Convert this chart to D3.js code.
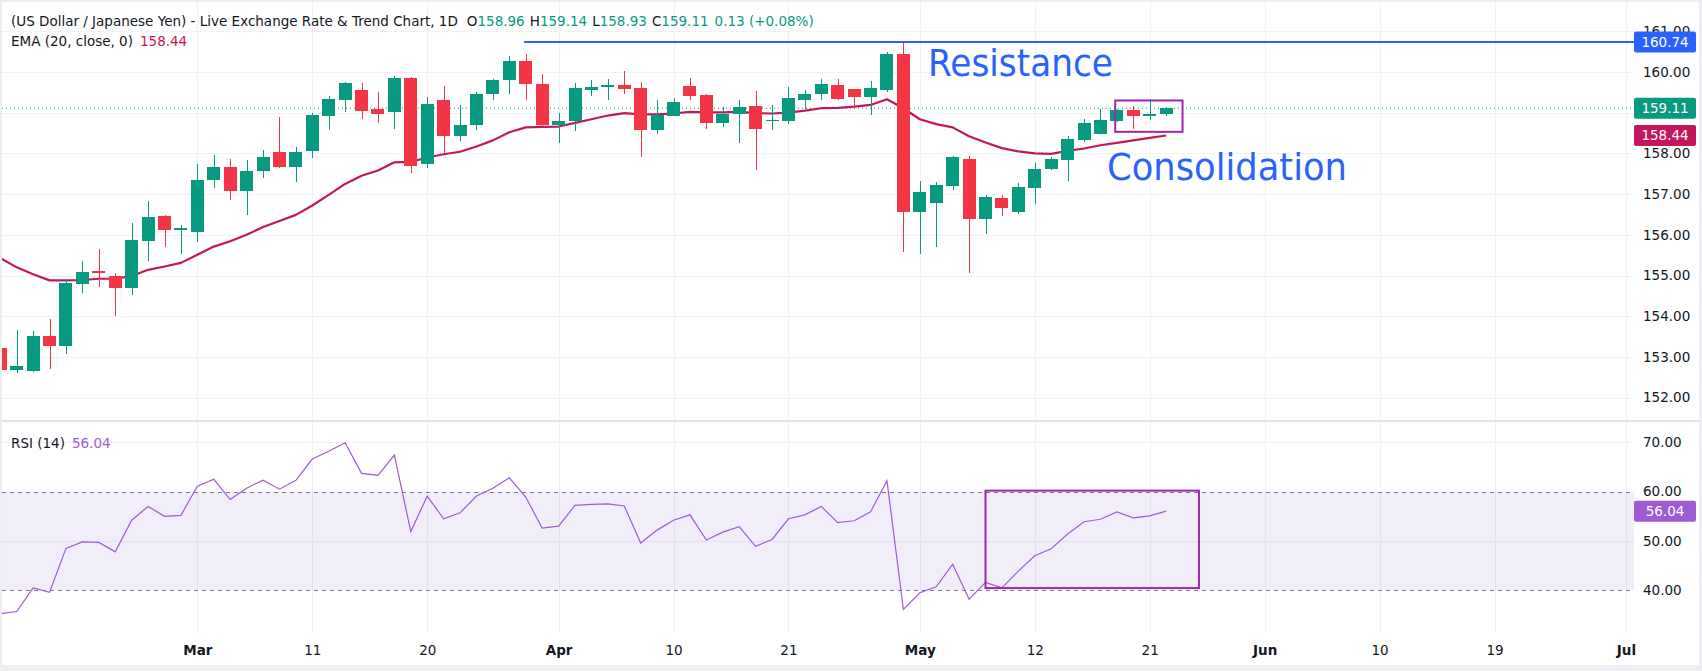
<!DOCTYPE html>
<html><head><meta charset="utf-8">
<script src="https://cdn.jsdelivr.net/npm/d3@7"></script>
<style>
html,body{margin:0;padding:0;background:#eceef2;}
svg{display:block;}
text{font-family:'DejaVu Sans',sans-serif;}
</style></head><body>
<svg id="chart" width="1702" height="671"></svg>
<script>
// ---------- DATA ----------
const opens  = [153.22,152.68,152.66,153.52,153.28,154.80,155.10,154.99,154.70,155.85,156.47,156.12,156.07,157.34,157.67,157.07,157.56,158.04,157.66,158.05,158.93,159.32,159.57,159.08,159.01,159.86,157.73,159.30,158.42,158.69,159.45,159.80,160.28,159.70,158.70,158.80,159.57,159.62,159.69,159.61,158.57,158.93,159.66,159.44,158.75,158.98,159.17,158.79,158.80,159.32,159.47,159.69,159.59,159.39,159.57,160.45,156.55,156.77,157.21,157.87,156.38,156.91,156.57,157.14,157.61,157.85,158.34,158.47,158.79,159.07,158.91,158.96];
const highs  = [153.25,153.66,153.64,153.94,154.88,155.36,155.66,155.06,156.30,156.84,156.49,156.25,157.75,157.97,157.87,157.84,158.09,158.90,158.15,158.99,159.42,159.76,159.74,159.50,159.91,159.87,159.39,159.66,159.20,159.50,159.84,160.40,160.45,159.96,159.00,159.74,159.81,159.84,160.03,159.76,159.30,159.37,159.86,159.47,159.15,159.30,159.54,159.20,159.64,159.57,159.84,159.84,159.59,159.79,160.48,160.74,157.33,157.30,157.93,157.94,156.97,156.98,157.28,157.77,157.92,158.43,158.85,159.10,159.10,159.17,159.34,159.14];
const lows   = [152.65,152.61,152.64,152.70,153.08,154.56,154.72,154.01,154.52,155.36,155.70,155.54,155.83,157.16,156.86,156.48,157.39,157.63,157.29,157.88,158.57,159.01,158.85,158.74,158.59,157.53,157.63,158.02,158.30,158.58,159.30,159.45,159.32,158.65,158.26,158.54,159.42,159.30,159.47,157.90,158.48,158.93,159.30,158.61,158.65,158.26,157.60,158.57,158.73,159.08,159.30,159.32,159.10,158.95,159.52,155.57,155.52,155.71,157.09,155.05,156.03,156.45,156.52,156.75,157.58,157.31,158.29,158.47,158.76,158.61,158.81,158.93];
const closes = [152.68,152.78,153.52,153.28,154.82,155.09,155.07,154.70,155.88,156.44,156.12,156.16,157.35,157.67,157.07,157.57,157.92,157.66,158.04,158.95,159.34,159.74,159.03,158.98,159.86,157.70,159.22,158.42,158.70,159.47,159.81,160.28,159.70,158.70,158.80,159.61,159.64,159.69,159.59,158.57,158.95,159.27,159.42,158.75,158.98,159.15,158.61,158.83,159.37,159.47,159.71,159.34,159.39,159.61,160.45,156.57,157.06,157.23,157.90,156.38,156.93,156.65,157.18,157.62,157.87,158.36,158.75,158.83,159.07,158.91,158.98,159.11];
const emaValues = [155.43,155.20,155.03,154.88,154.88,154.89,154.92,154.92,154.99,155.14,155.22,155.31,155.51,155.71,155.84,156.00,156.19,156.34,156.49,156.72,156.98,157.25,157.45,157.58,157.78,157.79,157.90,157.98,158.04,158.17,158.32,158.52,158.64,158.65,158.66,158.75,158.84,158.93,158.99,158.96,158.96,158.98,159.02,159.01,159.01,159.02,158.99,158.98,159.00,159.05,159.11,159.12,159.15,159.19,159.33,159.11,158.84,158.72,158.64,158.42,158.27,158.13,158.05,158.00,157.99,158.06,158.12,158.20,158.26,158.32,158.38,158.44];
const rsiValues = [35.3,35.7,40.5,39.6,48.5,49.8,49.7,47.8,54.2,57.0,55.0,55.2,61.1,62.5,58.4,60.7,62.3,60.5,62.3,66.6,68.2,69.9,63.7,63.3,67.4,51.9,59.1,54.5,55.7,59.1,60.7,62.8,58.9,52.6,53.0,57.2,57.4,57.5,57.1,49.6,52.2,54.2,55.3,50.2,51.8,52.9,48.9,50.3,54.5,55.3,57.0,53.7,54.1,55.9,62.2,36.1,39.5,40.7,45.3,38.2,41.6,40.5,43.9,47.0,48.4,51.4,53.9,54.4,55.9,54.7,55.1,56.04];
const timeTickIdx    = [12,19,26,34,41,48,56,63,70,77,84,91,99];
const timeTickLabels = ["Mar","11","20","Apr","10","21","May","12","21","Jun","10","19","Jul"];
const monthNames = ["Mar","Apr","May","Jun","Jul"];
const priceGridTicks = [152,153,154,155,156,157,158,159,160,161];
const priceLabelTicks = [152,153,154,155,156,157,158,160,161];
const rsiTicks   = [40,50,60,70];
const rsiBand    = [40,60];
const resistance = 160.74;
const resistanceStartIdx = 31.9;
const consolBox = {x0:67.9, x1:72.0, hi:159.30, lo:158.53};
const rsiBox    = {x0:60.0, x1:73.0, hi:60.2, lo:40.45};
const headerTitle = "(US Dollar / Japanese Yen) - Live Exchange Rate & Trend Chart, 1D";
const ohlcLabels = [["O","158.96"],["H","159.14"],["L","158.93"],["C","159.11"]];
const changeText = "0.13 (+0.08%)";

// ---------- LAYOUT ----------
const W=1702,H=671;
const plotL=2, plotR=1634, topY=2, sep=421, rsiBottom=632, frameBottom=665, frameRight=1699;
const UP="#089981", DOWN="#f23645", EMA_C="#c2185b", BLUE="#2962ff", PURPLE="#9c27b0", RSI_C="#a05ad4";
const GRID="#eef1f6";
const FONT="'DejaVu Sans',sans-serif";
const FS=13.5;

const svg=d3.select("#chart");
svg.append("rect").attr("x",0).attr("y",0).attr("width",W).attr("height",H).attr("fill","#eceef2");
svg.append("rect").attr("x",plotL).attr("y",topY).attr("width",frameRight-plotL).attr("height",frameBottom-topY).attr("fill","#fff");

const x=d3.scaleLinear().domain([0,99]).range([0.3,1625.88]);
const y=d3.scaleLinear().domain([152,160]).range([397.6,72]);
const yr=d3.scaleLinear().domain([40,70]).range([590.3,442.3]);

const defs=svg.append("defs");
defs.append("clipPath").attr("id","cp").append("rect").attr("x",plotL).attr("y",topY).attr("width",plotR-plotL).attr("height",sep-topY);
defs.append("clipPath").attr("id","cr").append("rect").attr("x",plotL).attr("y",sep).attr("width",plotR-plotL).attr("height",rsiBottom-sep);

// grid
const g=svg.append("g").attr("shape-rendering","crispEdges");
g.selectAll(".vg").data(timeTickIdx).join("line")
  .attr("x1",d=>Math.round(x(d))+0.5).attr("x2",d=>Math.round(x(d))+0.5)
  .attr("y1",topY).attr("y2",rsiBottom).attr("stroke",GRID);
g.selectAll(".hg").data(priceGridTicks).join("line")
  .attr("x1",plotL).attr("x2",plotR).attr("y1",d=>Math.round(y(d))+0.5).attr("y2",d=>Math.round(y(d))+0.5).attr("stroke",GRID);
g.selectAll(".rg").data([50,70]).join("line")
  .attr("x1",plotL).attr("x2",plotR).attr("y1",d=>Math.round(yr(d))+0.5).attr("y2",d=>Math.round(yr(d))+0.5).attr("stroke",GRID);

// pane separator
svg.append("rect").attr("x",plotL).attr("y",sep-1).attr("width",frameRight-plotL).attr("height",2).attr("fill","#e0e3eb");

// price pane
const pp=svg.append("g").attr("clip-path","url(#cp)");
const idx=d3.range(closes.length);
pp.append("line").attr("x1",plotL).attr("x2",plotR).attr("y1",y(closes[closes.length-1])).attr("y2",y(closes[closes.length-1]))
  .attr("stroke",UP).attr("stroke-width",1).attr("stroke-dasharray","1,3");
pp.append("path").datum(idx).attr("fill","none").attr("stroke",EMA_C).attr("stroke-width",2.2).attr("stroke-linejoin","round")
  .attr("d",d3.line().x(i=>x(i)).y(i=>y(emaValues[i])));
const cg=pp.append("g").attr("shape-rendering","crispEdges");
const col=i=>closes[i]>=opens[i]?UP:DOWN;
cg.selectAll(".wick").data(idx).join("rect")
  .attr("x",i=>Math.round(x(i))-0.5).attr("width",1.3)
  .attr("y",i=>y(highs[i])).attr("height",i=>Math.max(1,y(lows[i])-y(highs[i]))).attr("fill",col);
cg.selectAll(".body").data(idx).join("rect")
  .attr("x",i=>x(i)-6.5).attr("width",13)
  .attr("y",i=>y(Math.max(opens[i],closes[i])))
  .attr("height",i=>Math.max(1.5,Math.abs(y(opens[i])-y(closes[i])))).attr("fill",col);
pp.append("line").attr("x1",x(resistanceStartIdx)).attr("x2",plotR).attr("y1",y(resistance)).attr("y2",y(resistance))
  .attr("stroke",BLUE).attr("stroke-width",2);
pp.append("rect").attr("x",x(consolBox.x0)).attr("y",y(consolBox.hi)).attr("width",x(consolBox.x1)-x(consolBox.x0))
  .attr("height",y(consolBox.lo)-y(consolBox.hi)).attr("fill","none").attr("stroke",PURPLE).attr("stroke-width",2);
svg.append("text").attr("x",928).attr("y",76).attr("font-size",38).attr("fill",BLUE)
  .attr("textLength",185).attr("lengthAdjust","spacingAndGlyphs").text("Resistance");
svg.append("text").attr("x",1107).attr("y",180).attr("font-size",38).attr("fill",BLUE)
  .attr("textLength",240).attr("lengthAdjust","spacingAndGlyphs").text("Consolidation");

// RSI pane
const rp=svg.append("g").attr("clip-path","url(#cr)");
rp.append("rect").attr("x",plotL).attr("width",plotR-plotL).attr("y",yr(rsiBand[1])).attr("height",yr(rsiBand[0])-yr(rsiBand[1]))
  .attr("fill","rgba(126,87,194,0.1)");
rp.selectAll(".band").data(rsiBand).join("line").attr("x1",plotL).attr("x2",plotR)
  .attr("y1",d=>Math.round(yr(d))+0.5).attr("y2",d=>Math.round(yr(d))+0.5).attr("stroke","#787b86").attr("stroke-dasharray","4,4");
rp.append("path").datum(idx).attr("fill","none").attr("stroke",RSI_C).attr("stroke-width",1.2)
  .attr("d",d3.line().x(i=>x(i)).y(i=>yr(rsiValues[i])));
rp.append("rect").attr("x",x(rsiBox.x0)).attr("y",yr(rsiBox.hi)).attr("width",x(rsiBox.x1)-x(rsiBox.x0))
  .attr("height",yr(rsiBox.lo)-yr(rsiBox.hi)).attr("fill","none").attr("stroke",PURPLE).attr("stroke-width",2);

// price axis
const pax=svg.append("g").attr("transform",`translate(${plotR},0)`)
  .call(d3.axisRight(y).tickValues(priceLabelTicks).tickSize(0).tickPadding(9).tickFormat(d3.format(".2f")));
pax.select(".domain").remove();
pax.selectAll("text").attr("font-size",FS).attr("fill","#131722").attr("font-family",FONT);
const rax=svg.append("g").attr("transform",`translate(${plotR},0)`)
  .call(d3.axisRight(yr).tickValues(rsiTicks).tickSize(0).tickPadding(9).tickFormat(d3.format(".2f")));
rax.select(".domain").remove();
rax.selectAll("text").attr("font-size",FS).attr("fill","#131722").attr("font-family",FONT);

function tag(yv,color,txt){
  svg.append("rect").attr("x",plotR).attr("y",yv-10.5).attr("width",62).attr("height",21).attr("rx",2).attr("fill",color);
  svg.append("text").attr("x",plotR+31).attr("y",yv).attr("dy","0.36em").attr("text-anchor","middle")
    .attr("font-size",FS).attr("font-family",FONT).attr("fill","#fff").text(txt);
}
tag(y(resistance),BLUE,resistance.toFixed(2));
tag(y(closes[closes.length-1]),UP,closes[closes.length-1].toFixed(2));
tag(y(emaValues[emaValues.length-1]),EMA_C,emaValues[emaValues.length-1].toFixed(2));
tag(yr(rsiValues[rsiValues.length-1]),RSI_C,rsiValues[rsiValues.length-1].toFixed(2));

// time axis
const tax=svg.append("g").attr("transform",`translate(0,${rsiBottom})`)
  .call(d3.axisBottom(x).tickValues(timeTickIdx).tickSize(0).tickPadding(13).tickFormat((d,i)=>timeTickLabels[i]));
tax.select(".domain").remove();
tax.selectAll("text").attr("font-size",13.5).attr("fill","#131722").attr("font-family",FONT)
  .attr("font-weight",(d,i)=>monthNames.includes(timeTickLabels[i])?"bold":"normal");

// header legends
const h1=svg.append("text").attr("x",11).attr("y",26).attr("font-size",FS).attr("font-family",FONT).attr("fill","#131722");
h1.append("tspan").text(headerTitle);
ohlcLabels.forEach(([k,v],i)=>{
  h1.append("tspan").attr("dx",i===0?9:5).text(k);
  h1.append("tspan").attr("fill",UP).text(v);
});
h1.append("tspan").attr("dx",6).attr("fill",UP).text(changeText);
const h2=svg.append("text").attr("x",11).attr("y",45.5).attr("font-size",FS).attr("font-family",FONT).attr("fill","#131722");
h2.append("tspan").text("EMA (20, close, 0)");
h2.append("tspan").attr("dx",7).attr("fill",EMA_C).text(emaValues[emaValues.length-1].toFixed(2));
const h3=svg.append("text").attr("x",11).attr("y",448).attr("font-size",FS).attr("font-family",FONT).attr("fill","#131722");
h3.append("tspan").text("RSI (14)");
h3.append("tspan").attr("dx",7).attr("fill",RSI_C).text(rsiValues[rsiValues.length-1].toFixed(2));
</script>
</body></html>
